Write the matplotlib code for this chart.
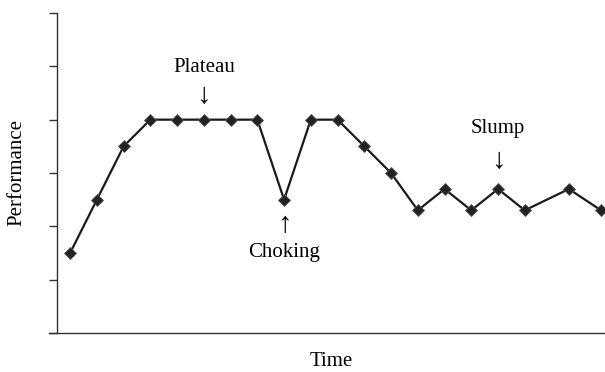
import matplotlib
matplotlib.use("Agg")
import matplotlib.pyplot as plt

# time positions (arbitrary units) and performance levels
time = [0, 1, 2, 3, 4, 5, 6, 7, 8, 9, 10, 11, 12, 13, 14, 15, 16, 17, 18.65, 19.85]
performance = [1.5, 2.5, 3.5, 4, 4, 4, 4, 4, 2.5, 4, 4, 3.5, 3, 2.3, 2.7, 2.3, 2.7, 2.3, 2.7, 2.3]

y_ticks = [0, 1, 2, 3, 4, 5, 6]

plt.rcParams["font.family"] = ["Liberation Serif", "DejaVu Serif"]

fig = plt.figure(figsize=(6.05, 3.72), dpi=100)
ax = fig.add_axes([49 / 605, 39 / 372, 556 / 605, 320 / 372])

ax.plot(time, performance, color="#1a1a1a", lw=1.6, marker="D", markersize=5.8,
        markerfacecolor="#222222", markeredgecolor="#555555", markeredgewidth=0.6)

ax.set_xlim(-0.79, 20.0)
ax.set_ylim(0, 6)

for side in ["top", "right"]:
    ax.spines[side].set_visible(False)
ax.spines["left"].set_position(("data", -0.49))
ax.spines["left"].set_color("#333333")
ax.spines["bottom"].set_color("#333333")
ax.spines["left"].set_linewidth(1.0)
ax.spines["bottom"].set_linewidth(1.0)

ax.set_yticks(y_ticks)
ax.set_yticklabels([])
ax.set_xticks([])
ax.tick_params(axis="y", direction="out", length=6, width=1.0, color="#333333")

fs = 15
afs = 21
ax.text(5, 4.98, "Plateau", ha="center", va="center", fontsize=fs)
ax.text(5, 4.44, "↓", ha="center", va="center", fontsize=afs)
ax.text(8, 2.03, "↑", ha="center", va="center", fontsize=afs)
ax.text(8, 1.5, "Choking", ha="center", va="center", fontsize=fs)
ax.text(16, 3.84, "Slump", ha="center", va="center", fontsize=fs)
ax.text(16, 3.23, "↓", ha="center", va="center", fontsize=afs)

fig.text(17 / 605, 1 - 173 / 372, "Performance", rotation=90, ha="center", va="center", fontsize=fs)
fig.text(331 / 605, 1 - 361 / 372, "Time", ha="center", va="center", fontsize=fs)

fig.savefig("out.png", dpi=100)
